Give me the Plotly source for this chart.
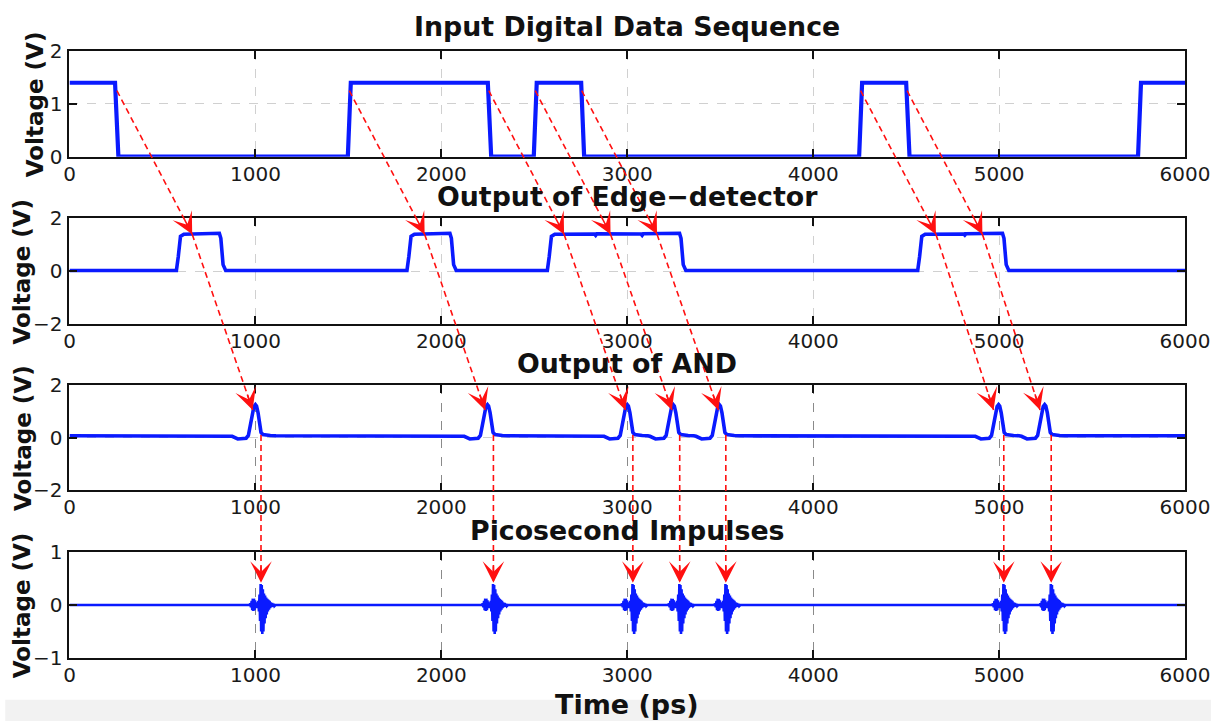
import math
import plotly.graph_objects as go

# Layout positions are given in reference-picture pixels (1211 x 721).
# The photograph maps page pixels to picture pixels with a factor S, and the
# page keeps its default 8px body margin; the figure covers the whole picture.
REF_W, REF_H, PAD, S = 1211, 721, 8, 0.971
FW, FH = 1240, 736

# ---------------- data ----------------
time_ticks = [0, 1000, 2000, 3000, 4000, 5000, 6000]
panel_titles = ["Input Digital Data Sequence", "Output of Edge\u2212detector",
                "Output of AND", "Picosecond Impulses"]
y_ranges = [[0, 2], [-2, 2], [-2, 2], [-1, 1]]
y_ticks = [[0, 1, 2], [-2, 0, 2], [-2, 0, 2], [-1, 0, 1]]

# Panel 1: input digital data (breakpoints)
input_t = [0, 245, 263, 1497, 1513, 2250, 2268, 2497, 2513, 2752, 2768,
           4247, 4263, 4500, 4518, 5747, 5763, 6000]
input_v = [1.4, 1.4, 0.0, 0.0, 1.4, 1.4, 0.0, 0.0, 1.4, 1.4, 0.0,
           0.0, 1.4, 1.4, 0.0, 0.0, 1.4, 1.4]

# Panel 2: edge-detector output pulses
edge_low = 0.03
edge_rise_t = [575, 1815, 2570, 4562]
edge_fall_t = [806, 2046, 3281, 5018]
edge_rise_dt = [0, 10, 22, 40]
edge_rise_v = [0.03, 0.55, 1.32, 1.40]
edge_fall_dt = [0, 8, 20, 34]
edge_fall_v = [1.44, 1.25, 0.25, 0.03]
edge_notch_t = [2830, 3080, 4815]
edge_notch_v = [1.36, 1.36, 1.37]

# Panel 3: AND output pulses
and_base = 0.07
and_peak_t = [1000, 2248, 3000, 3247, 3495, 4997, 5245]
and_dt = [-125, -95, -70, -50, -38, -28, -18, -8, 0, 6, 14, 22, 30, 40, 55, 80, 110]
and_v = [0.05, -0.05, -0.05, -0.02, 0.08, 0.40, 0.85, 1.18, 1.25, 1.20, 0.95,
         0.50, 0.20, 0.12, 0.10, 0.08, 0.07]

# Panel 4: picosecond impulses
imp_center_t = [1030, 2280, 3030, 3282, 3530, 5025, 5280]
imp_dt = [-62, -58, -54, -50, -47, -44, -41, -38, -35, -32, -29, -26, -23, -20,
          -17, -14, -11, -8, -5, -2, 1, 4, 7, 10, 13, 16, 19, 22, 25, 28, 31,
          34, 37, 40, 43, 46, 49, 52, 56, 60, 64, 68, 72, 78]
imp_v = [0.0, 0.03, -0.04, 0.08, -0.10, 0.12, -0.11, 0.12, -0.10, 0.09, -0.06,
         0.05, -0.04, 0.05, -0.06, 0.08, -0.12, 0.20, -0.30, 0.40, -0.50, 0.38,
         -0.55, 0.30, -0.50, 0.22, -0.35, 0.18, -0.25, 0.14, -0.18, 0.12, -0.12,
         0.10, -0.09, 0.08, -0.06, 0.05, -0.04, 0.04, -0.03, 0.02, -0.02, 0.0]

# Red causal arrows
arrow_src_t = [255, 1505, 2255, 2505, 2755, 4255, 4505]    # panel 1 edges
arrow_src_v = 1.25
det_tip_t = [660, 1910, 2660, 2910, 3160, 4660, 4910]      # panel 2
det_tip_v = 1.4
and_tip_t = [985, 2235, 2990, 3240, 3490, 4970, 5220]      # panel 3
and_tip_v = 1.05
and_tail_v = 0.1
imp_tip_v = 0.42                                           # panel 4

# ---------------- build waveforms ----------------
edge_t, edge_v = [0], [edge_low]
for r, f in zip(edge_rise_t, edge_fall_t):
    edge_t += [r + d for d in edge_rise_dt]
    edge_v += edge_rise_v
    for nt, nv in zip(edge_notch_t, edge_notch_v):
        if r + 40 < nt < f:
            edge_t += [nt - 6, nt, nt + 6]
            edge_v += [1.41, nv, 1.42]
    edge_t += [f + d for d in edge_fall_dt]
    edge_v += edge_fall_v
edge_t.append(6000)
edge_v.append(edge_low)

and_t, and_vv = [0], [and_base]
for p in and_peak_t:
    and_t += [p + d for d in and_dt]
    and_vv += and_v
and_t.append(6000)
and_vv.append(and_base)

imp_t, imp_vv = [0], [0.0]
for c in imp_center_t:
    imp_t += [c + d for d in imp_dt]
    imp_vv += imp_v
imp_t.append(6000)
imp_vv.append(0.0)


# ---------------- layout geometry (reference pixels -> paper) ----------------
def sx(px):
    return (px / S - PAD) / FW


def sy(py):
    return 1 - (py / S - PAD) / FH


x_dom = [sx(71), sx(1182)]
panel_px = [(47, 153), (215, 321), (382, 488), (550, 656)]
y_doms = [[sy(b), sy(t)] for t, b in panel_px]

BLUE = "#0a1aff"
RED = "#ff1010"
FONT = "DejaVu Sans"

fig = go.Figure()
series = [(input_t, input_v, 4.2), (edge_t, edge_v, 3.6),
          (and_t, and_vv, 3.6), (imp_t, imp_vv, 2.6)]
for i, (tx, vy, w) in enumerate(series):
    s = "" if i == 0 else str(i + 1)
    fig.add_trace(go.Scatter(x=tx, y=vy, mode="lines", xaxis="x" + s, yaxis="y" + s,
                             line=dict(color=BLUE, width=w), showlegend=False,
                             hoverinfo="skip"))

layout = dict(width=FW, height=FH, autosize=False, margin=dict(l=0, r=0, t=0, b=0),
              paper_bgcolor="white", plot_bgcolor="white",
              font=dict(family=FONT, color="#1a1a1a"))
for i in range(4):
    s = "" if i == 0 else str(i + 1)
    xgrid = "#8a8a8a" if i >= 2 else "#d0d0d0"
    layout["xaxis" + s] = dict(
        domain=x_dom, range=[0, 6000], tickvals=time_ticks, anchor="y" + s,
        ticks="inside", ticklen=8, tickwidth=1.6, tickcolor="#111",
        mirror="allticks", showline=True, linecolor="#111", linewidth=1.8,
        showgrid=True, gridcolor=xgrid, griddash="dash", gridwidth=1,
        zeroline=False, tickfont=dict(size=20, family=FONT, color="#1a1a1a"),
        ticklabelstandoff=-2, ticklabeloverflow="allow")
    layout["yaxis" + s] = dict(
        domain=y_doms[i], range=y_ranges[i], tickvals=y_ticks[i], anchor="x" + s,
        ticks="inside", ticklen=8, tickwidth=1.6, tickcolor="#111",
        mirror="allticks", showline=True, linecolor="#111", linewidth=1.8,
        showgrid=True, gridcolor="#d0d0d0", griddash="dash", gridwidth=1,
        zeroline=False, tickfont=dict(size=20, family=FONT, color="#1a1a1a"),
        ticklabelstandoff=1)
fig.update_layout(**layout)


def paper_y(v, k):
    d0, d1 = y_doms[k]
    r0, r1 = y_ranges[k]
    return d0 + (v - r0) / (r1 - r0) * (d1 - d0)


def paper_x(t):
    return x_dom[0] + t / 6000 * (x_dom[1] - x_dom[0])


shapes = []
annos = []
# light screenshot band at the bottom
shapes.append(dict(type="rect", xref="paper", yref="paper", x0=sx(7), x1=1,
                   y0=0, y1=sy(698), fillcolor="#f2f2f2", line=dict(width=0),
                   layer="below"))


def arrow(t0, v0, k0, t1, v1, k1):
    y0p, y1p = paper_y(v0, k0), paper_y(v1, k1)
    shapes.append(dict(type="line", xref="x", yref="paper", x0=t0, x1=t1,
                       y0=y0p, y1=y1p,
                       line=dict(color=RED, width=1.6, dash="6px,4px")))
    dx = (paper_x(t1) - paper_x(t0)) * FW
    dy = (y0p - y1p) * FH  # downward positive
    L = math.hypot(dx, dy)
    ux, uy = dx / L, dy / L
    s = "" if k1 == 0 else str(k1 + 1)
    annos.append(dict(x=t1, y=v1, xref="x" + s, yref="y" + s, text="",
                      showarrow=True, arrowhead=3, arrowsize=2.4, arrowwidth=1.5,
                      arrowcolor=RED, ax=-ux * 18, ay=-uy * 18, standoff=0))


for j in range(len(arrow_src_t)):
    arrow(arrow_src_t[j], arrow_src_v, 0, det_tip_t[j], det_tip_v, 1)
    arrow(det_tip_t[j], det_tip_v, 1, and_tip_t[j], and_tip_v, 2)
    arrow(imp_center_t[j], and_tail_v, 2, imp_center_t[j], imp_tip_v, 3)

# panel titles and y labels
for i in range(4):
    s = "" if i == 0 else str(i + 1)
    annos.append(dict(text="<b>" + panel_titles[i] + "</b>", xref="paper",
                      x=(x_dom[0] + x_dom[1]) / 2, yref="y" + s + " domain", y=1,
                      yanchor="bottom", xanchor="center", showarrow=False,
                      yshift=7 if i == 0 else 4,
                      font=dict(size=26.8, family=FONT, color="#111")))
    lx = 37 if i == 0 else 24
    annos.append(dict(text="<b>Voltage (V)</b>", xref="paper", x=sx(lx),
                      yref="y" + s + " domain", y=0.5, textangle=-90,
                      xanchor="center", yanchor="middle", showarrow=False,
                      font=dict(size=23, family=FONT, color="#111")))

annos.append(dict(text="<b>Time (ps)</b>", xref="paper", x=(x_dom[0] + x_dom[1]) / 2,
                  yref="paper", y=sy(703), xanchor="center", yanchor="middle",
                  showarrow=False, font=dict(size=27, family=FONT, color="#111")))

fig.update_layout(shapes=shapes, annotations=annos)
fig.write_html("out.html")
